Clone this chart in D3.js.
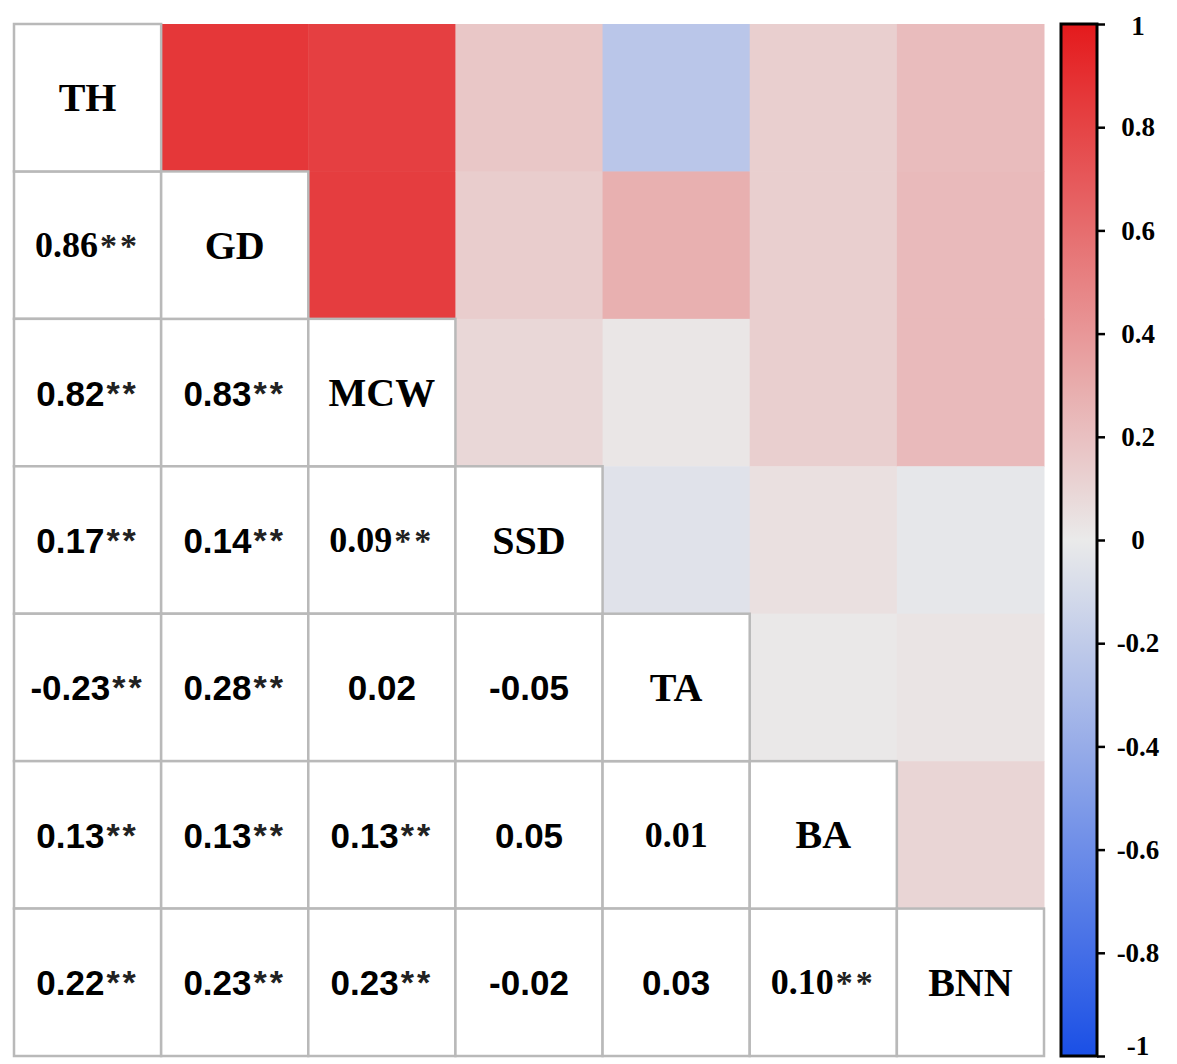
<!DOCTYPE html>
<html>
<head>
<meta charset="utf-8">
<script src="https://cdn.jsdelivr.net/npm/d3@7"></script>
<style>
    body { margin: 0; background: #fff; }
    svg { display: block; }
</style>
</head>
<body>
<svg id="chart"></svg>
<script>
// Variables, in diagonal order.
const variables = ['TH', 'GD', 'MCW', 'SSD', 'TA', 'BA', 'BNN'];

// Lower triangle, row by row (row i holds its correlations with columns 0..i-1).
const corrRows = [
    [],
    [0.86],
    [0.82, 0.83],
    [0.17, 0.14, 0.09],
    [-0.23, 0.28, 0.02, -0.05],
    [0.13, 0.13, 0.13, 0.05, 0.01],
    [0.22, 0.23, 0.23, -0.02, 0.03, 0.10],
];

// Significance marks, same layout.
const sigRows = [
    [],
    ['**'],
    ['**', '**'],
    ['**', '**', '**'],
    ['**', '**', '', ''],
    ['**', '**', '**', '', ''],
    ['**', '**', '**', '', '', '**'],
];

const colorbarTicks = [1, 0.8, 0.6, 0.4, 0.2, 0, -0.2, -0.4, -0.6, -0.8, -1];

// Cells whose numbers were typeset in the serif face.
const serifCells = new Set(['1-0', '3-2', '5-4', '6-5']);

const width = 1177;
const height = 1064;
const grid = { left: 14, top: 24, right: 1044, bottom: 1056 };
const bar = { x: 1061, w: 36 };
const SERIF = '"Liberation Serif", "Times New Roman", serif';
const SANS = '"Liberation Sans", Arial, sans-serif';

const svg = d3.select('#chart').attr('width', width).attr('height', height);

const x = d3.scaleBand().domain(d3.range(variables.length)).range([grid.left, grid.right]);
const y = d3.scaleBand().domain(d3.range(variables.length)).range([grid.top, grid.bottom]);

const color = d3
    .scaleLinear()
    .domain([-1, 0, 1])
    .range(['#1a4fe6', '#eaeaea', '#e41a1c'])
    .clamp(true);

// Build cell list from the lower triangle.
const cells = [];
corrRows.forEach((row, i) => {
    row.forEach((v, j) => {
        cells.push({ i, j, v, sig: sigRows[i][j], serif: serifCells.has(`${i}-${j}`) });
    });
});

// Upper triangle coloured tiles (mirror of lower).
svg.append('g')
    .selectAll('rect')
    .data(cells)
    .enter()
    .append('rect')
    .attr('x', d => x(d.i))
    .attr('y', d => y(d.j))
    .attr('width', x.bandwidth() + 0.5)
    .attr('height', y.bandwidth() + 0.5)
    .attr('fill', d => color(d.v));

// Lower triangle and diagonal: white boxes with grey borders.
const boxes = cells.map(d => ({ i: d.i, j: d.j })).concat(variables.map((v, i) => ({ i, j: i })));
svg.append('g')
    .selectAll('rect')
    .data(boxes)
    .enter()
    .append('rect')
    .attr('x', d => x(d.j))
    .attr('y', d => y(d.i))
    .attr('width', x.bandwidth())
    .attr('height', y.bandwidth())
    .attr('fill', '#fff')
    .attr('stroke', '#b9b9b9')
    .attr('stroke-width', 2.5);

// Diagonal labels.
svg.append('g')
    .selectAll('text')
    .data(variables)
    .enter()
    .append('text')
    .attr('x', (d, i) => x(i) + x.bandwidth() / 2)
    .attr('y', (d, i) => y(i) + y.bandwidth() / 2)
    .attr('text-anchor', 'middle')
    .attr('dominant-baseline', 'central')
    .attr('font-family', SERIF)
    .attr('font-weight', 'bold')
    .attr('font-size', '40px')
    .text(d => d);

// Correlation numbers.
const labels = svg
    .append('g')
    .selectAll('text')
    .data(cells)
    .enter()
    .append('text')
    .attr('x', d => x(d.j) + x.bandwidth() / 2)
    .attr('y', d => y(d.i) + y.bandwidth() / 2)
    .attr('text-anchor', 'middle')
    .attr('dominant-baseline', 'central')
    .attr('font-weight', 'bold')
    .attr('font-family', d => (d.serif ? SERIF : SANS))
    .attr('font-size', d => (d.serif ? '36px' : '35px'));

labels.append('tspan').text(d => d.v.toFixed(2));
labels
    .append('tspan')
    .attr('dx', d => (d.sig ? 2 : 0))
    .attr('font-size', d => (d.serif ? '34px' : '34px'))
    .attr('letter-spacing', '3px')
    .attr('fill', '#222')
    .text(d => d.sig);

// Colour bar.
const barScale = d3.scaleLinear().domain([-1, 1]).range([grid.bottom, grid.top]);

const grad = svg
    .append('defs')
    .append('linearGradient')
    .attr('id', 'cbar')
    .attr('x1', 0)
    .attr('y1', 1)
    .attr('x2', 0)
    .attr('y2', 0);
grad.selectAll('stop')
    .data(d3.range(-1, 1.0001, 0.1))
    .enter()
    .append('stop')
    .attr('offset', d => (d + 1) / 2)
    .attr('stop-color', d => color(d));

svg.append('rect')
    .attr('x', bar.x)
    .attr('y', barScale(1))
    .attr('width', bar.w)
    .attr('height', barScale(-1) - barScale(1))
    .attr('fill', 'url(#cbar)')
    .attr('stroke', '#000')
    .attr('stroke-width', 3);

const axis = svg
    .append('g')
    .attr('transform', `translate(${bar.x + bar.w}, 0)`)
    .call(
        d3
            .axisRight(barScale)
            .tickValues(colorbarTicks)
            .tickSize(8)
            .tickFormat(d => String(d))
    );

axis.select('.domain').remove();
axis.selectAll('.tick line').attr('stroke', '#000').attr('stroke-width', 2.5);
axis.selectAll('.tick text')
    .attr('x', 41)
    .attr('dy', d => (d === -1 ? '-0.05em' : d === 1 ? '0.4em' : '0.32em'))
    .attr('text-anchor', 'middle')
    .attr('fill', '#000')
    .attr('font-family', SERIF)
    .attr('font-weight', 'bold')
    .attr('font-size', '27px');
</script>
</body>
</html>
